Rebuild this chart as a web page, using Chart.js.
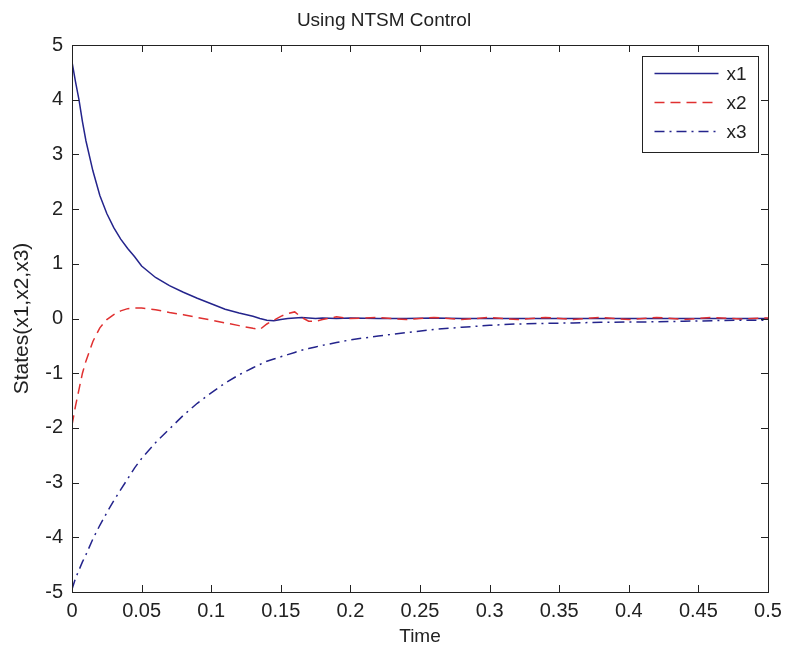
<!DOCTYPE html>
<html>
<head>
<meta charset="utf-8">
<script src="https://cdn.jsdelivr.net/npm/chart.js@4.4.1/dist/chart.umd.min.js"></script>
<style>
  html, body { margin: 0; padding: 0; background: #fff; }
  #wrap { width: 785px; height: 648px; }
</style>
</head>
<body>
<div id="wrap"><canvas id="c" width="785" height="648"></canvas></div>
<script>
const titleText = "Using NTSM Control";
const xAxisTitle = "Time";
const yAxisTitle = "States(x1,x2,x3)";
const seriesNames = ["x1", "x2", "x3"];

const xTicks = [0, 0.05, 0.1, 0.15, 0.2, 0.25, 0.3, 0.35, 0.4, 0.45, 0.5];
const xTickLabels = ["0", "0.05", "0.1", "0.15", "0.2", "0.25", "0.3", "0.35", "0.4", "0.45", "0.5"];
const yTicks = [-5, -4, -3, -2, -1, 0, 1, 2, 3, 4, 5];
const yTickLabels = ["-5", "-4", "-3", "-2", "-1", "0", "1", "2", "3", "4", "5"];

const time = [0, 0.0025, 0.005, 0.0075, 0.01, 0.015, 0.02, 0.025, 0.03, 0.035, 0.04, 0.045, 0.05,
  0.06, 0.07, 0.08, 0.09, 0.1, 0.11, 0.12, 0.13, 0.135, 0.14, 0.145, 0.15, 0.155, 0.16, 0.165,
  0.17, 0.175, 0.18, 0.19, 0.2, 0.22, 0.24, 0.26, 0.28, 0.3, 0.32, 0.34, 0.36, 0.38, 0.4, 0.42,
  0.44, 0.46, 0.48, 0.5];

const x1 = [4.69, 4.33, 4.0, 3.6, 3.25, 2.7, 2.25, 1.92, 1.66, 1.45, 1.28, 1.13, 0.96,
  0.75, 0.6, 0.48, 0.37, 0.27, 0.17, 0.1, 0.04, 0.0, -0.03, -0.04, -0.02, 0.0, 0.01, 0.02,
  0.01, 0.0, 0.01, 0.0, 0.01, 0.0, 0.0, 0.01, 0.0, 0.0, 0.0, 0.0, 0.0, 0.0, 0.0, 0.0,
  0.0, 0.0, 0.0, 0.0];

const x2 = [-1.95, -1.6, -1.3, -1.0, -0.78, -0.42, -0.17, -0.02, 0.07, 0.14, 0.18, 0.19, 0.19,
  0.16, 0.11, 0.07, 0.02, -0.03, -0.08, -0.13, -0.18, -0.2, -0.1, -0.03, 0.04, 0.09, 0.12, 0.02,
  -0.05, -0.05, -0.02, 0.03, 0.0, 0.02, -0.02, 0.02, -0.02, 0.02, -0.02, 0.02, -0.02, 0.02, -0.02, 0.02,
  -0.02, 0.02, -0.01, 0.01];

const x3 = [-4.95, -4.75, -4.6, -4.45, -4.32, -4.03, -3.78, -3.55, -3.33, -3.13, -2.93, -2.73, -2.56,
  -2.27, -2.02, -1.77, -1.55, -1.36, -1.18, -1.03, -0.9, -0.84, -0.78, -0.74, -0.7, -0.66, -0.62, -0.58,
  -0.55, -0.52, -0.49, -0.44, -0.39, -0.32, -0.26, -0.2, -0.16, -0.125, -0.1, -0.09, -0.08, -0.07, -0.065, -0.06,
  -0.05, -0.04, -0.03, -0.03];

const FONT = "'Liberation Sans', Arial, Helvetica, sans-serif";
const INK = "#222222";
const BLUE = "#24248c";
const RED = "#e03030";

function pts(ys) { return time.map((t, i) => ({ x: t, y: ys[i] })); }

const datasets = [
  { label: seriesNames[0], data: pts(x1), borderColor: BLUE, borderWidth: 1.5, borderDash: [], order: 3 },
  { label: seriesNames[1], data: pts(x2), borderColor: RED, borderWidth: 1.5, borderDash: [10, 6], order: 2 },
  { label: seriesNames[2], data: pts(x3), borderColor: BLUE, borderWidth: 1.5, borderDash: [10, 5, 2, 5], order: 1 }
];
datasets.forEach(d => { d.pointRadius = 0; d.tension = 0; d.fill = false; });

const framePlugin = {
  id: 'frame',
  afterDatasetsDraw(chart) {
    const { ctx, chartArea: a, scales } = chart;
    ctx.save();
    ctx.strokeStyle = INK;
    ctx.lineWidth = 1;
    ctx.strokeRect(Math.round(a.left) + 0.5, Math.round(a.top) + 0.5,
      Math.round(a.right - a.left), Math.round(a.bottom - a.top));
    const L = 7;
    ctx.beginPath();
    xTicks.forEach(v => {
      const px = Math.round(scales.x.getPixelForValue(v)) + 0.5;
      ctx.moveTo(px, a.bottom); ctx.lineTo(px, a.bottom - L);
      ctx.moveTo(px, a.top); ctx.lineTo(px, a.top + L);
    });
    yTicks.forEach(v => {
      const py = Math.round(scales.y.getPixelForValue(v)) + 0.5;
      ctx.moveTo(a.left, py); ctx.lineTo(a.left + L, py);
      ctx.moveTo(a.right, py); ctx.lineTo(a.right - L, py);
    });
    ctx.stroke();

    // legend box
    const bw = 116, bh = 96;
    const bx = Math.round(a.right) - 10 - bw + 0.5;
    const by = Math.round(a.top) + 11 + 0.5;
    ctx.fillStyle = "#fff";
    ctx.fillRect(bx, by, bw, bh);
    ctx.strokeStyle = INK;
    ctx.lineWidth = 1;
    ctx.strokeRect(bx, by, bw, bh);
    const rows = [17, 46, 75];
    chart.data.datasets.forEach((d, i) => {
      const y = by + rows[i];
      ctx.beginPath();
      ctx.setLineDash(d.borderDash);
      ctx.strokeStyle = d.borderColor;
      ctx.lineWidth = 1.5;
      ctx.moveTo(bx + 12, y); ctx.lineTo(bx + 76, y);
      ctx.stroke();
      ctx.setLineDash([]);
      ctx.fillStyle = INK;
      ctx.font = "19px " + FONT;
      ctx.textAlign = "left";
      ctx.textBaseline = "middle";
      ctx.fillText(d.label, bx + 84, y + 1);
    });
    ctx.restore();
  }
};

new Chart(document.getElementById('c'), {
  type: 'line',
  data: { datasets },
  plugins: [framePlugin],
  options: {
    responsive: false,
    animation: false,
    layout: { padding: { left: 0, right: 17, top: 0, bottom: 0 } },
    plugins: {
      legend: { display: false },
      tooltip: { enabled: false },
      title: {
        display: true, text: titleText, color: INK,
        font: { family: FONT, size: 19, weight: 'normal' },
        padding: { top: 9, bottom: 13.2 }
      }
    },
    scales: {
      x: {
        type: 'linear', min: 0, max: 0.5,
        afterBuildTicks: s => { s.ticks = xTicks.map(v => ({ value: v })); },
        afterFit: s => { s.height = 56; s.paddingLeft = 0; s.paddingRight = 0; },
        ticks: {
          color: INK, font: { family: FONT, size: 20 }, padding: 7, maxRotation: 0, autoSkip: false,
          callback: (v, i) => xTickLabels[i]
        },
        grid: { drawOnChartArea: false, drawTicks: false },
        border: { display: false },
        title: { display: true, text: xAxisTitle, color: INK, font: { family: FONT, size: 19 }, padding: { top: 4.6, bottom: 0 } }
      },
      y: {
        type: 'linear', min: -5, max: 5,
        afterBuildTicks: s => { s.ticks = yTicks.map(v => ({ value: v })); },
        afterFit: s => { s.width = 72; s.paddingTop = 0; s.paddingBottom = 0; },
        ticks: {
          color: INK, font: { family: FONT, size: 20 }, padding: 9, autoSkip: false,
          callback: (v, i) => yTickLabels[i]
        },
        grid: { drawOnChartArea: false, drawTicks: false },
        border: { display: false },
        title: { display: true, text: yAxisTitle, color: INK, font: { family: FONT, size: 21 }, padding: { top: 9.4, bottom: 0 } }
      }
    }
  }
});
</script>
</body>
</html>
